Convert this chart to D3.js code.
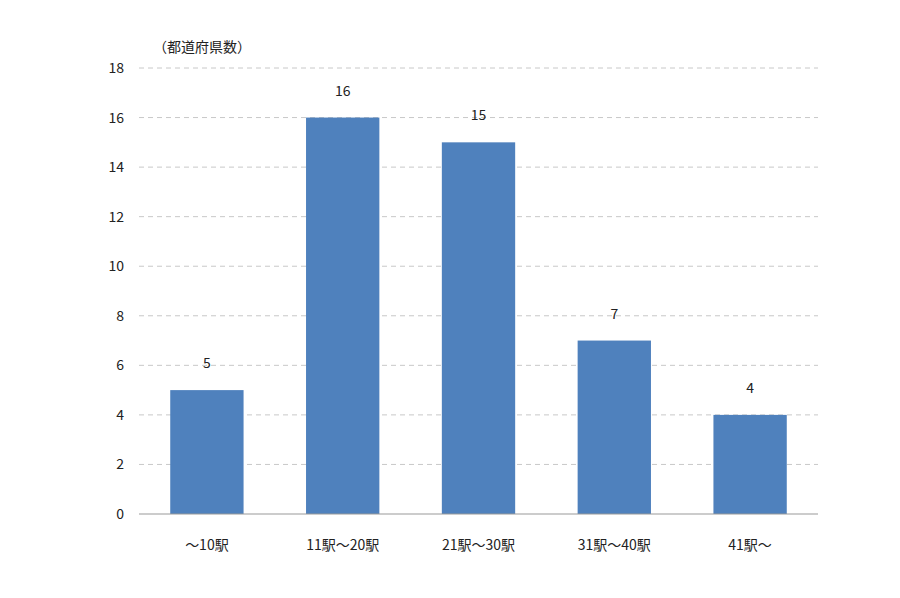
<!DOCTYPE html>
<html><head><meta charset="utf-8">
<script src="https://cdn.jsdelivr.net/npm/d3@7"></script>
<style>body{margin:0;background:#fff}text{font-family:"Noto Sans CJK JP","Noto Sans",sans-serif;fill:#222}</style>
</head><body><svg id="c" width="900" height="598"></svg>
<script>
const categories=["～10駅","11駅～20駅","21駅～30駅","31駅～40駅","41駅～"];
const values=[5,16,15,7,4];
const yTicks=[0,2,4,6,8,10,12,14,16,18];
const svg=d3.select("#c");
const x=d3.scaleBand().domain(categories).range([139,818]).paddingInner(0.46).paddingOuter(0.23);
const y=d3.scaleLinear().domain([0,18]).range([514,68]);
svg.append("g").selectAll("line").data(yTicks.filter(d=>d>0)).join("line")
 .attr("x1",139).attr("x2",818).attr("y1",d=>y(d)).attr("y2",d=>y(d))
 .attr("stroke","#c8c8c8").attr("stroke-dasharray","5,4");
svg.append("g").selectAll("rect").data(values).join("rect")
 .attr("x",(d,i)=>x(categories[i])).attr("width",x.bandwidth())
 .attr("y",d=>y(d)).attr("height",d=>y(0)-y(d)).attr("fill","#4f81bd");
svg.append("line").attr("x1",139).attr("x2",818).attr("y1",y(0)).attr("y2",y(0)).attr("stroke","#999");
svg.append("g").selectAll("text").data(yTicks).join("text")
 .attr("x",124).attr("y",d=>y(d)+5).attr("text-anchor","end").attr("font-size",14).text(d=>d);
svg.append("g").selectAll("text").data(values).join("text")
 .attr("x",(d,i)=>x(categories[i])+x.bandwidth()/2).attr("y",d=>y(d)-22)
 .attr("text-anchor","middle").attr("font-size",14).text(d=>d);
svg.append("g").selectAll("text").data(categories).join("text")
 .attr("x",d=>x(d)+x.bandwidth()/2).attr("y",550).attr("text-anchor","middle").attr("font-size",14).text(d=>d);
svg.append("text").attr("x",153).attr("y",52).attr("font-size",14).text("（都道府県数）");
</script></body></html>
